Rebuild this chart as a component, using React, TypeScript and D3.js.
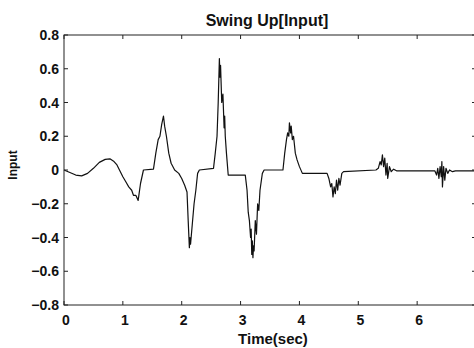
import React from "react";
import * as d3 from "d3";

const timeSec: number[] = [
  0, 0.1, 0.2, 0.3, 0.4, 0.5, 0.6, 0.7, 0.78, 0.85, 0.9, 1.0, 1.05, 1.1, 1.15, 1.18, 1.22, 1.26, 1.3, 1.35,
  1.52, 1.56, 1.6, 1.63, 1.66, 1.69, 1.71, 1.74, 1.78, 1.82, 1.88, 1.95, 2.0, 2.05, 2.09, 2.11, 2.13, 2.14, 2.15,
  2.18, 2.21, 2.24, 2.27, 2.3, 2.54, 2.57, 2.6, 2.62, 2.64, 2.65, 2.66, 2.68, 2.7, 2.72, 2.73, 2.74, 2.76, 2.79,
  3.08, 3.11, 3.13, 3.15, 3.17, 3.18, 3.19, 3.2, 3.21, 3.22, 3.23, 3.25, 3.27, 3.29, 3.31, 3.33, 3.37, 3.4,
  3.72, 3.75, 3.78, 3.8, 3.82, 3.83, 3.85, 3.86, 3.88, 3.9, 3.93, 3.96, 4.0, 4.05,
  4.47, 4.5, 4.53, 4.55, 4.57, 4.59, 4.61, 4.63, 4.65, 4.67, 4.69, 4.72, 4.75,
  5.3, 5.34, 5.37, 5.39, 5.41, 5.43, 5.45, 5.47, 5.49, 5.5, 5.53, 5.56, 5.6, 5.65,
  6.3, 6.33, 6.35, 6.37, 6.39, 6.41, 6.42, 6.43, 6.45, 6.47, 6.49, 6.52, 6.55, 6.6, 6.65, 7.0,
];

const inputValues: number[] = [
  0, -0.015, -0.03, -0.035, -0.02, 0.01, 0.045, 0.063, 0.066, 0.05, 0.03, -0.04, -0.07, -0.1, -0.12, -0.15, -0.15, -0.18, -0.08, 0.0,
  0.005, 0.1, 0.18, 0.2, 0.27, 0.32, 0.26, 0.2, 0.1, 0.04, 0.0, -0.02, -0.05, -0.09, -0.13, -0.3, -0.46, -0.4, -0.44,
  -0.32, -0.2, -0.12, -0.02, 0.0, 0.01, 0.1, 0.2, 0.4, 0.66, 0.55, 0.62, 0.4, 0.45, 0.25, 0.32, 0.2, 0.1, -0.03,
  -0.03, -0.12, -0.25, -0.3, -0.4, -0.35, -0.5, -0.42, -0.52, -0.45, -0.48, -0.3, -0.38, -0.2, -0.24, -0.12, -0.02, 0.0,
  0.0, 0.1, 0.18, 0.22, 0.2, 0.28, 0.22, 0.26, 0.18, 0.2, 0.1, 0.06, 0.02, -0.02,
  -0.02, -0.05, -0.1, -0.08, -0.16, -0.1, -0.14, -0.06, -0.12, -0.05, -0.09, -0.02, -0.01,
  0.0, 0.01, 0.05, 0.03, 0.09, 0.02, 0.07, -0.03, 0.04, -0.05, 0.02, -0.01, 0.005, -0.005,
  -0.005, -0.03, 0.01, -0.05, 0.02, -0.04, 0.05, -0.1, 0.02, -0.06, 0.01, -0.02, 0.0, -0.01, -0.005, -0.005,
];

const xTicks: number[] = [0, 1, 2, 3, 4, 5, 6, 7];
const yTicks: number[] = [-0.8, -0.6, -0.4, -0.2, 0, 0.2, 0.4, 0.6, 0.8];

const W = 474;
const H = 348;
const left = 64;
const right = 476;
const top = 35;
const bottom = 305;

export default function App() {
  const x = d3.scaleLinear().domain([0, 7]).range([left, right]);
  const y = d3.scaleLinear().domain([-0.8, 0.8]).range([bottom, top]);
  const pts: [number, number][] = timeSec.map((t, i) => [t, inputValues[i]]);
  const line = d3
    .line<[number, number]>()
    .x((d) => x(d[0]))
    .y((d) => y(d[1]));
  const font = "'Liberation Sans', Arial, sans-serif";
  const tl = 4;
  return (
    <svg
      width={W}
      height={H}
      style={{ position: "absolute", left: 0, top: 0, background: "#fff" }}
    >
      <rect x={0} y={0} width={W} height={H} fill="#fff" />
      <path d={line(pts) || ""} fill="none" stroke="#111" strokeWidth={1.2} strokeLinejoin="round" />
      <rect x={left} y={top} width={right - left} height={bottom - top} fill="none" stroke="#222" strokeWidth={1} />
      {xTicks.map((t) => (
        <g key={"x" + t}>
          <line x1={x(t)} x2={x(t)} y1={bottom} y2={bottom - tl} stroke="#222" />
          <line x1={x(t)} x2={x(t)} y1={top} y2={top + tl} stroke="#222" />
          {t < 7 && (
            <text x={x(t) + 2} y={bottom + 20} textAnchor="middle" fontFamily={font} fontWeight="bold" fontSize={14} fill="#111">
              {t}
            </text>
          )}
        </g>
      ))}
      {yTicks.map((v) => (
        <g key={"y" + v}>
          <line x1={left} x2={left + tl} y1={y(v)} y2={y(v)} stroke="#222" />
          <line x1={right} x2={right - tl} y1={y(v)} y2={y(v)} stroke="#222" />
          <text x={left - 5} y={y(v) + 5} textAnchor="end" fontFamily={font} fontWeight="bold" fontSize={14} fill="#111">
            {v === 0 ? "0" : d3.format(".1f")(v)}
          </text>
        </g>
      ))}
      <text x={267} y={26} textAnchor="middle" fontFamily={font} fontWeight="bold" fontSize={16} fill="#111">
        Swing Up[Input]
      </text>
      <text x={273} y={344} textAnchor="middle" fontFamily={font} fontWeight="bold" fontSize={15} fill="#111">
        Time(sec)
      </text>
      <text
        transform={`translate(17,165) rotate(-90)`}
        textAnchor="middle"
        fontFamily={font}
        fontWeight="bold"
        fontSize={12}
        fill="#111"
      >
        Input
      </text>
    </svg>
  );
}
